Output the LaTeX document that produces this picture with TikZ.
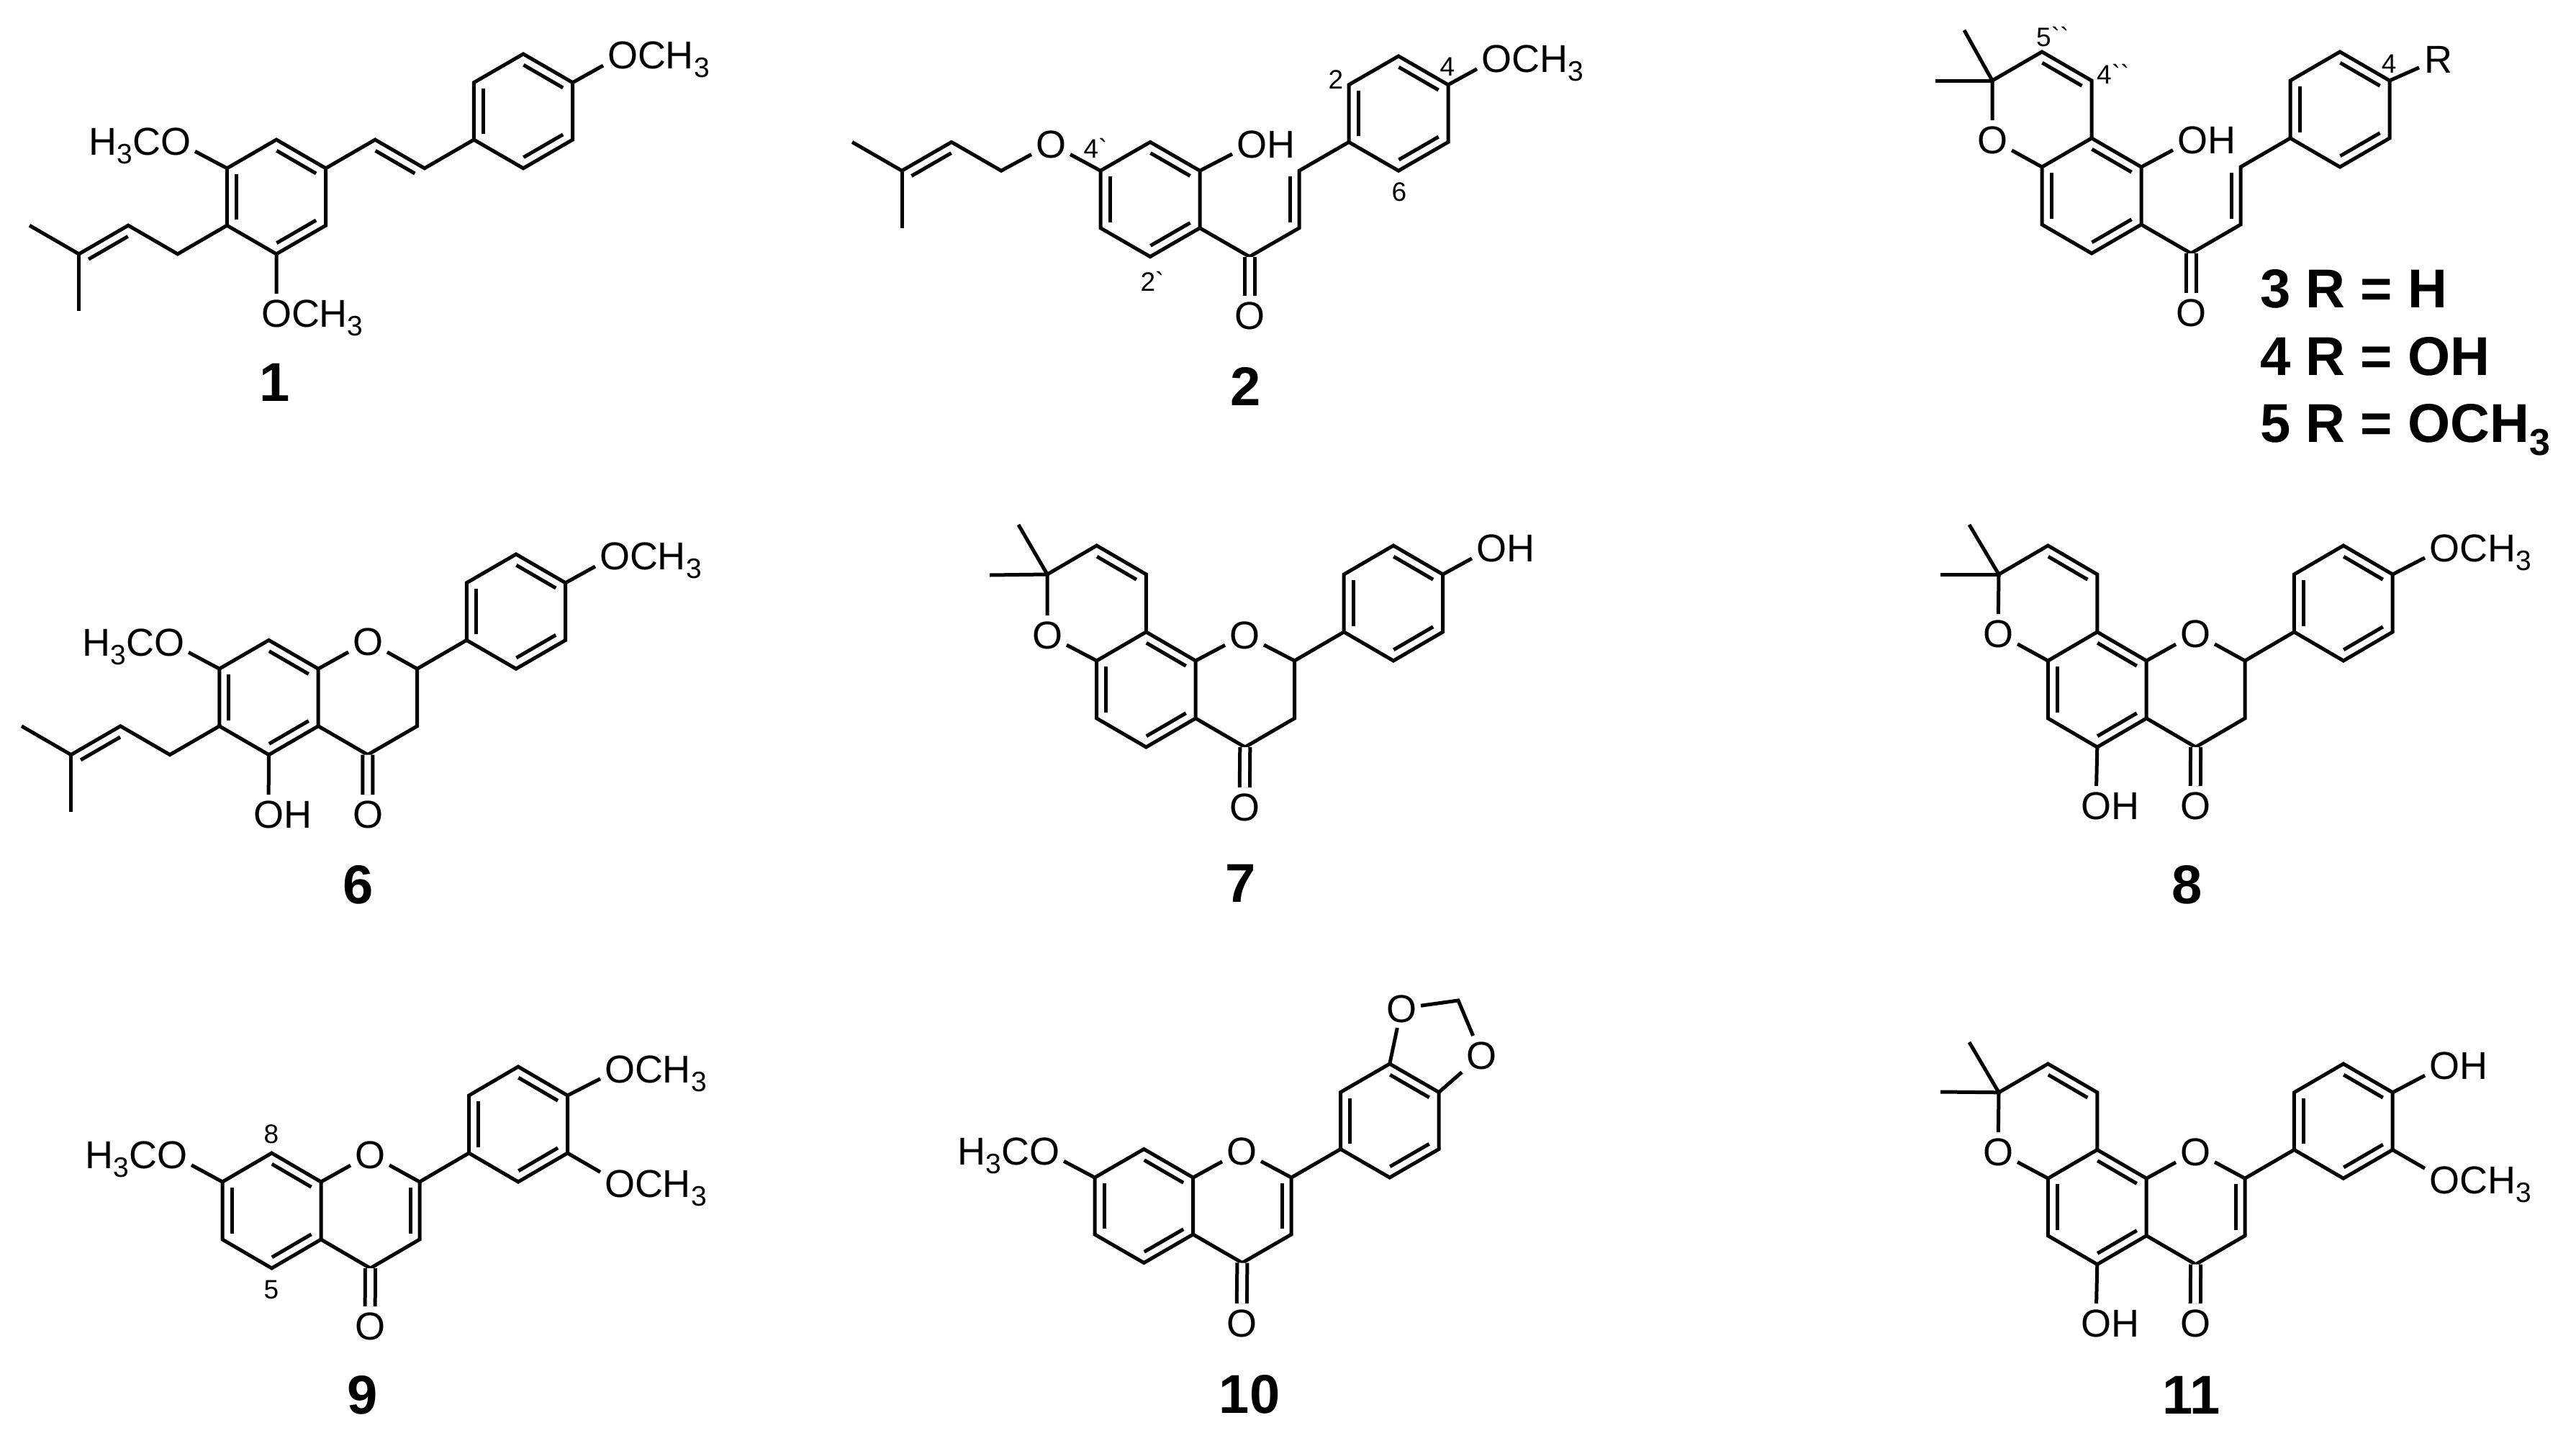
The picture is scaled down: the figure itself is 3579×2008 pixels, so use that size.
\documentclass[tikz,border=0pt]{standalone}
\usepackage{fontspec}
\newfontfamily\molfont{Liberation Sans}
\usetikzlibrary{positioning,calc}
\newcommand{\atomfont}{\molfont\fontsize{54}{60}\selectfont}
\newcommand{\cmpdfont}{\molfont\bfseries\fontsize{76}{80}\selectfont}
\newcommand{\atomsub}{\raisebox{-12pt}{\fontsize{39}{39}\selectfont 3}}
\newcommand{\cmpdsub}{\raisebox{-18pt}{\fontsize{52}{52}\selectfont 3}}
\tikzset{
    % Bonds
    bond/.style={line width=5pt},
    carbonyl/.style={bond,double,double distance=9pt},
    %
    % Nodes
    atom/.style={inner sep=0pt,outer sep=0pt,minimum width=54pt,minimum height=54pt,text height=39pt,text depth=0pt},
    tail/.style={inner sep=0pt,outer sep=0pt,minimum height=54pt,text height=39pt,text depth=0pt},
    cmpd/.style={font=\cmpdfont,inner sep=0pt,text height=55pt,text depth=0pt},
    locant/.style={font=\molfont\fontsize{37}{39}\selectfont,inner sep=0pt}
}
\tikzstyle{every node}=[font=\atomfont]
% grid of ring positions, one for each molecule
\newcommand{\lattice}[4]{\foreach \i in {0,...,12}{\foreach \j in {0,...,9}{\coordinate (p\i-\j) at ({#1+\i*#3},{#2+\j*#4});}}}
% second line of a double bond, on the right of the direction a to b
\newcommand{\dbl}[2]{\draw[bond] ($(#1)!8pt!(#2)!13pt!-90:(#2)$) -- ($(#2)!8pt!(#1)!13pt!90:(#1)$);}
% six ring, corners clockwise
\newcommand{\kekule}[6]{\draw[bond] (#1)--(#2)--(#3)--(#4)--(#5)--(#6)--cycle; \dbl{#1}{#2}\dbl{#3}{#4}\dbl{#5}{#6}}
\newcommand{\methoxy}[2]{\node[atom] (#1) at (#2) {O}; \node[tail,right=-6pt of #1] (#1me) {CH\atomsub};}
\newcommand{\rmethoxy}[2]{\node[atom] (#1) at (#2) {O}; \node[tail,left=-6pt of #1] (#1me) {H\atomsub C};}
\newcommand{\hydroxy}[2]{\node[atom] (#1) at (#2) {O}; \node[tail,right=-6pt of #1] (#1h) {H};}

\begin{document}
\begin{tikzpicture}[x=1pt,y=-1pt]
    \useasboundingbox (0,0) rectangle (3579,2008);

    % 1
    \lattice{41}{75}{68.6}{39.7}
    \rmethoxy{oa1}{244,196}
    \methoxy{ob1}{384,435}
    \methoxy{oc1}{865,76}
    \kekule{p5-3}{p6-4}{p6-6}{p5-7}{p4-6}{p4-4}
    \kekule{p10-0}{p11-1}{p11-3}{p10-4}{p9-3}{p9-1}
    \draw[bond] (p6-4)--(p7-3)--(p8-4)--(p9-3);
    \dbl{p7-3}{p8-4}
    \draw[bond] (p0-6)--(p1-7)--(p2-6)--(p3-7)--(p4-6);
    \draw[bond] (p1-7)--(p1-9);
    \dbl{p1-7}{p2-6}
    \draw[bond] (p4-4)--(oa1);
    \draw[bond] (p5-7)--(ob1);
    \draw[bond] (p11-1)--(oc1);
    \node[cmpd] (num1) at (382,530) {1};

    % 2
    \lattice{1184}{78}{69}{39.8}
    \node[atom] (oa2) at (1460,200) {O};
    \hydroxy{ob2}{1739,200}
    \node[atom] (oc2) at (1736,438) {O};
    \methoxy{od2}{2079,81}
    \kekule{p6-3}{p7-4}{p7-6}{p6-7}{p5-6}{p5-4}
    \kekule{p11-0}{p12-1}{p12-3}{p11-4}{p10-3}{p10-1}
    \draw[bond] (p0-3)--(p1-4)--(p2-3)--(p3-4)--(oa2)--(p5-4);
    \draw[bond] (p1-4)--(p1-6);
    \dbl{p1-4}{p2-3}
    \draw[bond] (p7-4)--(ob2);
    \draw[bond] (p7-6)--(p8-7)--(p9-6)--(p9-4)--(p10-3);
    \dbl{p9-4}{p9-6}
    \draw[carbonyl] (p8-7)--(oc2);
    \draw[bond] (p12-1)--(od2);
    \node[locant] (c42) at (2011,93) {4};
    \node[locant] (c22) at (1856,111) {2};
    \node[locant] (c62) at (1944,267) {6};
    \node[locant] (c4p2) at (1522,206) {4`};
    \node[locant] (c2p2) at (1601,391) {2`};
    \node[cmpd] (num2) at (1731,536) {2};

    % 3, 4, 5
    \lattice{2768}{72}{69}{40}
    \coordinate (mea3) at (2689,112);
    \coordinate (meb3) at (2729,42);
    \node[atom] (oa3) at (2768,194) {O};
    \hydroxy{ob3}{3046,194}
    \node[atom] (oc3) at (3044,434) {O};
    \node[atom] (ra3) at (3388,82) {R};
    \kekule{p2-3}{p3-4}{p3-6}{p2-7}{p1-6}{p1-4}
    \kekule{p7-0}{p8-1}{p8-3}{p7-4}{p6-3}{p6-1}
    \draw[bond] (p2-3)--(p2-1)--(p1-0)--(p0-1)--(oa3)--(p1-4);
    \dbl{p1-0}{p2-1}
    \draw[bond] (p0-1)--(mea3);
    \draw[bond] (p0-1)--(meb3);
    \draw[bond] (p3-4)--(ob3);
    \draw[bond] (p3-6)--(p4-7)--(p5-6)--(p5-4)--(p6-3);
    \dbl{p5-4}{p5-6}
    \draw[carbonyl] (p4-7)--(oc3);
    \draw[bond] (p8-1)--(ra3);
    \node[locant,anchor=west] (c5a3) at (2829,51) {5``};
    \node[locant,anchor=west] (c4a3) at (2913,103) {4``};
    \node[locant] (c43) at (3319,89) {4};
    \node[cmpd,anchor=west] (num3) at (3140,400) {3 R = H};
    \node[cmpd,anchor=west] (num4) at (3140,494) {4 R = OH};
    \node[cmpd,anchor=west] (num5) at (3140,587) {5 R = OCH\cmpdsub};

    % 6
    \lattice{30}{770}{68.7}{39.8}
    \rmethoxy{oa6}{235,892}
    \node[atom] (ob6) at (511,891) {O};
    \methoxy{oc6}{854,772}
    \hydroxy{od6}{373,1131}
    \node[atom] (oe6) at (511,1131) {O};
    \kekule{p5-3}{p6-4}{p6-6}{p5-7}{p4-6}{p4-4}
    \kekule{p10-0}{p11-1}{p11-3}{p10-4}{p9-3}{p9-1}
    \draw[bond] (p0-6)--(p1-7)--(p2-6)--(p3-7)--(p4-6);
    \draw[bond] (p1-7)--(p1-9);
    \dbl{p1-7}{p2-6}
    \draw[bond] (p4-4)--(oa6);
    \draw[bond] (p6-4)--(ob6)--(p8-4)--(p8-6)--(p7-7)--(p6-6);
    \draw[bond] (p8-4)--(p9-3);
    \draw[bond] (p11-1)--(oc6);
    \draw[bond] (p5-7)--(od6);
    \draw[carbonyl] (p7-7)--(oe6);
    \node[cmpd] (num6) at (498,1228) {6};

    % 7
    \lattice{1455}{758}{68.7}{40}
    \coordinate (mea7) at (1375,799);
    \coordinate (meb7) at (1415,729);
    \node[atom] (oa7) at (1455,882) {O};
    \node[atom] (ob7) at (1729,882) {O};
    \hydroxy{oc7}{2072,761}
    \node[atom] (od7) at (1729,1121) {O};
    \kekule{p2-3}{p3-4}{p3-6}{p2-7}{p1-6}{p1-4}
    \kekule{p7-0}{p8-1}{p8-3}{p7-4}{p6-3}{p6-1}
    \draw[bond] (p2-3)--(p2-1)--(p1-0)--(p0-1)--(oa7)--(p1-4);
    \dbl{p1-0}{p2-1}
    \draw[bond] (p0-1)--(mea7);
    \draw[bond] (p0-1)--(meb7);
    \draw[bond] (p3-4)--(ob7)--(p5-4)--(p5-6)--(p4-7)--(p3-6);
    \draw[bond] (p5-4)--(p6-3);
    \draw[bond] (p8-1)--(oc7);
    \draw[carbonyl] (p4-7)--(od7);
    \node[cmpd] (num7) at (1724,1226) {7};

    % 8
    \lattice{2777}{758}{68.4}{40}
    \coordinate (mea8) at (2696,798);
    \coordinate (meb8) at (2736,729);
    \node[atom] (oa8) at (2776,880) {O};
    \node[atom] (ob8) at (3050,880) {O};
    \methoxy{oc8}{3396,761}
    \hydroxy{od8}{2912,1119}
    \node[atom] (oe8) at (3050,1119) {O};
    \kekule{p2-3}{p3-4}{p3-6}{p2-7}{p1-6}{p1-4}
    \kekule{p7-0}{p8-1}{p8-3}{p7-4}{p6-3}{p6-1}
    \draw[bond] (p2-3)--(p2-1)--(p1-0)--(p0-1)--(oa8)--(p1-4);
    \dbl{p1-0}{p2-1}
    \draw[bond] (p0-1)--(mea8);
    \draw[bond] (p0-1)--(meb8);
    \draw[bond] (p3-4)--(ob8)--(p5-4)--(p5-6)--(p4-7)--(p3-6);
    \draw[bond] (p5-4)--(p6-3);
    \draw[bond] (p8-1)--(oc8);
    \draw[bond] (p2-7)--(od8);
    \draw[carbonyl] (p4-7)--(oe8);
    \node[cmpd] (num8) at (3039,1228) {8};

    % 9
    \lattice{309}{1482}{68.5}{40}
    \rmethoxy{oa9}{239,1604}
    \node[atom] (ob9) at (514,1604) {O};
    \methoxy{oc9}{861,1485}
    \methoxy{od9}{861,1644}
    \node[atom] (oe9) at (514,1842) {O};
    \kekule{p1-3}{p2-4}{p2-6}{p1-7}{p0-6}{p0-4}
    \kekule{p6-0}{p7-1}{p7-3}{p6-4}{p5-3}{p5-1}
    \draw[bond] (p0-4)--(oa9);
    \draw[bond] (p2-4)--(ob9)--(p4-4)--(p4-6)--(p3-7)--(p2-6);
    \dbl{p4-4}{p4-6}
    \draw[bond] (p4-4)--(p5-3);
    \draw[bond] (p7-1)--(oc9);
    \draw[bond] (p7-3)--(od9);
    \draw[carbonyl] (p3-7)--(oe9);
    \node[locant] (c89) at (377,1576) {8};
    \node[locant] (c59) at (377,1792) {5};
    \node[cmpd] (num9) at (504,1937) {9};

    % 10
    \lattice{1521}{1478}{68.3}{39.5}
    \coordinate (cha10) at (2026,1390);
    \rmethoxy{oa10}{1451,1599}
    \node[atom] (ob10) at (1725,1599) {O};
    \node[atom] (oc10) at (1947,1401) {O};
    \node[atom] (od10) at (2058,1466) {O};
    \node[atom] (oe10) at (1725,1838) {O};
    \kekule{p1-3}{p2-4}{p2-6}{p1-7}{p0-6}{p0-4}
    \kekule{p6-0}{p7-1}{p7-3}{p6-4}{p5-3}{p5-1}
    \draw[bond] (p0-4)--(oa10);
    \draw[bond] (p2-4)--(ob10)--(p4-4)--(p4-6)--(p3-7)--(p2-6);
    \dbl{p4-4}{p4-6}
    \draw[bond] (p4-4)--(p5-3);
    \draw[bond] (p6-0)--(oc10)--(cha10)--(od10)--(p7-1);
    \draw[carbonyl] (p3-7)--(oe10);
    \node[cmpd] (num10) at (1736,1936) {10};

    % 11
    \lattice{2777}{1478}{68.4}{39.8}
    \coordinate (mea11) at (2696,1517);
    \coordinate (meb11) at (2736,1448);
    \node[atom] (oa11) at (2776,1600) {O};
    \node[atom] (ob11) at (3050,1600) {O};
    \hydroxy{oc11}{3396,1480}
    \methoxy{od11}{3396,1639}
    \hydroxy{oe11}{2912,1838}
    \node[atom] (of11) at (3050,1838) {O};
    \kekule{p2-3}{p3-4}{p3-6}{p2-7}{p1-6}{p1-4}
    \kekule{p7-0}{p8-1}{p8-3}{p7-4}{p6-3}{p6-1}
    \draw[bond] (p2-3)--(p2-1)--(p1-0)--(p0-1)--(oa11)--(p1-4);
    \dbl{p1-0}{p2-1}
    \draw[bond] (p0-1)--(mea11);
    \draw[bond] (p0-1)--(meb11);
    \draw[bond] (p3-4)--(ob11)--(p5-4)--(p5-6)--(p4-7)--(p3-6);
    \dbl{p5-4}{p5-6}
    \draw[bond] (p5-4)--(p6-3);
    \draw[bond] (p8-1)--(oc11);
    \draw[bond] (p8-3)--(od11);
    \draw[bond] (p2-7)--(oe11);
    \draw[carbonyl] (p4-7)--(of11);
    \node[cmpd] (num11) at (3045,1937) {11};
\end{tikzpicture}
\end{document}
